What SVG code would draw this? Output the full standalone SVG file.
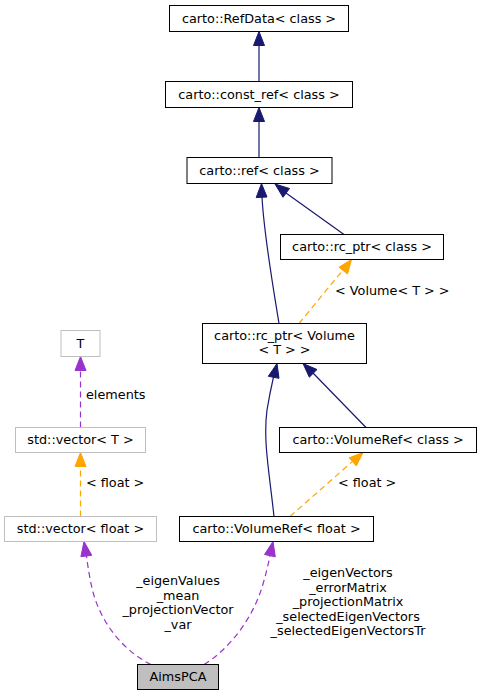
<svg xmlns="http://www.w3.org/2000/svg" width="482" height="696" viewBox="0 0 482 696">
<style>
text{font-family:"DejaVu Sans",sans-serif;font-size:12.8px;fill:#000}
.n rect{fill:#fff;stroke:#000;stroke-width:1}
.g rect{fill:#fff;stroke:#bfbfbf;stroke-width:1}
.c rect{fill:#bfbfbf;stroke:#000;stroke-width:1}
.m{text-anchor:middle}
.inh{fill:none;stroke:#191970;stroke-width:1.2}
.tpl{fill:none;stroke:#ffa500;stroke-width:1.2;stroke-dasharray:6,4}
.use{fill:none;stroke:#9a32cd;stroke-width:1.2;stroke-dasharray:6,4}
.ah{fill:#191970;stroke:#191970}
.ao{fill:#ffa500;stroke:#ffa500}
.ap{fill:#9a32cd;stroke:#9a32cd}
</style>
<rect width="482" height="696" fill="#fff"/>
<g id="connectors">
  <!-- const_ref -> RefData -->
  <path class="inh" d="M259,81.5 L259,45"/>
  <polygon class="ah" points="259,31.5 264.5,45.5 253.5,45.5"/>
  <!-- ref -> const_ref -->
  <path class="inh" d="M259,157.5 L259,121"/>
  <polygon class="ah" points="259,107.5 264.5,121.5 253.5,121.5"/>
  <!-- rc_ptr<Volume> -> ref -->
  <path class="inh" d="M279,323.5 C272,280 264,235 262,197"/>
  <polygon class="ah" points="261.5,183.5 267,197 256.2,197.6"/>
  <!-- rc_ptr<class> -> ref -->
  <path class="inh" d="M344,234.5 L286,193"/>
  <polygon class="ah" points="275,184 289.5,188.5 283,197.3"/>
  <!-- rc_ptr<Volume> -> rc_ptr<class> (template) -->
  <path class="tpl" d="M299,323.5 L343,270"/>
  <polygon class="ao" points="351.5,259.5 347.5,274 339,267.2"/>
  <!-- VolumeRef<class> -> rc_ptr<Volume> -->
  <path class="inh" d="M366,427.5 L313,373"/>
  <polygon class="ah" points="303,363.5 317,369.5 309.3,377.2"/>
  <!-- VolumeRef<float> -> rc_ptr<Volume> -->
  <path class="inh" d="M274,516.5 C269,470 263,440 267,410 C269,398 271,388 273.5,377"/>
  <polygon class="ah" points="277,363.5 279,378.3 268.3,376.3"/>
  <!-- VolumeRef<float> -> VolumeRef<class> (template) -->
  <path class="tpl" d="M290,516.5 L353,461"/>
  <polygon class="ao" points="363,452.5 356.3,466 349.2,457.8"/>
  <!-- std::vector<T> -> T -->
  <path class="use" d="M80.5,427.5 L80.5,370"/>
  <polygon class="ap" points="80.5,356.5 86,370.5 75,370.5"/>
  <!-- std::vector<float> -> std::vector<T> -->
  <path class="tpl" d="M80.5,516.5 L80.5,466"/>
  <polygon class="ao" points="80.5,452.5 86,466.5 75,466.5"/>
  <!-- AimsPCA -> std::vector<float> -->
  <path class="use" d="M151,664.5 C122,650 101,622 93,592 C90,580 88,568 86.5,556"/>
  <polygon class="ap" points="84,541.5 91.8,555.3 80.9,556.7"/>
  <!-- AimsPCA -> VolumeRef<float> -->
  <path class="use" d="M204,664.5 C231,648 254,616 263,584 C266,574 268,565 270,556"/>
  <polygon class="ap" points="273,541.5 275.3,556.8 264.5,554.5"/>
  <text x="335" y="295">&lt; Volume&lt; T &gt; &gt;</text>
  <text x="338" y="486.5">&lt; float &gt;</text>
  <text x="86" y="398.5">elements</text>
  <text x="86" y="486.5">&lt; float &gt;</text>
  <text class="m" x="178" y="585">_eigenValues</text>
  <text class="m" x="178" y="599.5">_mean</text>
  <text class="m" x="178" y="614">_projectionVector</text>
  <text class="m" x="178" y="629">_var</text>
  <text class="m" x="348" y="577">_eigenVectors</text>
  <text class="m" x="348" y="591.5">_errorMatrix</text>
  <text class="m" x="348" y="606">_projectionMatrix</text>
  <text class="m" x="348" y="620.5">_selectedEigenVectors</text>
  <text class="m" x="348" y="635">_selectedEigenVectorsTr</text>
</g>
<g id="RefData" class="n"><rect x="169.5" y="5.5" width="179" height="26"/><text class="m" x="259" y="22.5">carto::RefData&lt; class &gt;</text></g>
<g id="const_ref" class="n"><rect x="165.5" y="81.5" width="187" height="26"/><text class="m" x="259" y="98.5">carto::const_ref&lt; class &gt;</text></g>
<g id="ref" class="n"><rect x="187" y="157.5" width="145" height="26"/><text class="m" x="259.5" y="174.5">carto::ref&lt; class &gt;</text></g>
<g id="rc_ptr_class" class="n"><rect x="280.5" y="234.5" width="163" height="25"/><text class="m" x="362" y="251">carto::rc_ptr&lt; class &gt;</text></g>
<g id="rc_ptr_volume" class="n"><rect x="202.5" y="323.5" width="164" height="40"/><text class="m" x="284.5" y="339.5">carto::rc_ptr&lt; Volume</text><text class="m" x="284.5" y="354">&lt; T &gt; &gt;</text></g>
<g id="VolumeRef_class" class="n"><rect x="279.5" y="427.5" width="197" height="25"/><text class="m" x="378" y="444">carto::VolumeRef&lt; class &gt;</text></g>
<g id="VolumeRef_float" class="n"><rect x="179.5" y="516.5" width="194" height="25"/><text class="m" x="276.5" y="533">carto::VolumeRef&lt; float &gt;</text></g>
<g id="T" class="g"><rect x="61" y="330.5" width="39" height="26"/><text class="m" x="80.5" y="347.5">T</text></g>
<g id="vector_T" class="g"><rect x="15.5" y="427.5" width="130" height="25"/><text class="m" x="80.5" y="444">std::vector&lt; T &gt;</text></g>
<g id="vector_float" class="g"><rect x="4.5" y="516.5" width="152" height="25"/><text class="m" x="80.5" y="533">std::vector&lt; float &gt;</text></g>
<g id="AimsPCA" class="c"><rect x="137.5" y="664.5" width="81" height="25"/><text class="m" x="178" y="681">AimsPCA</text></g>
</svg>
